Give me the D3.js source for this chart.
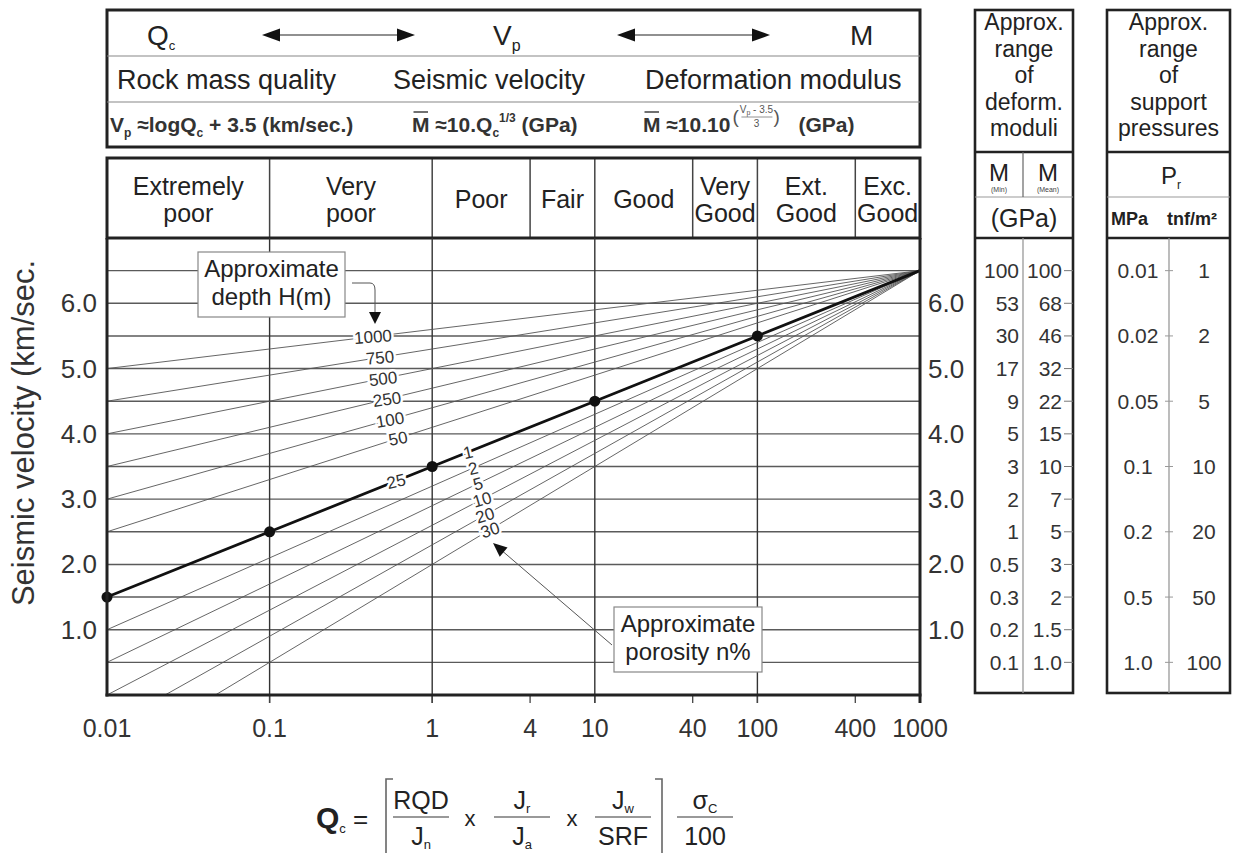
<!DOCTYPE html>
<html>
<head>
<meta charset="utf-8">
<title>Qc - Vp - M</title>
<script src="https://cdn.jsdelivr.net/npm/d3@7"></script>
<style>
body{margin:0;background:#fff;}
text{font-family:"Liberation Sans",Arial,Helvetica,sans-serif;fill:#222;}
</style>
</head>
<body>
<script>
//---------------------------------- data
var qTicks = [0.01, 0.1, 1, 4, 10, 40, 100, 400, 1000];
var qTickLabels = ["0.01", "0.1", "1", "4", "10", "40", "100", "400", "1000"];
var qGrid = [0.1, 1, 10, 100];
var qualityBounds = [0.01, 0.1, 1, 4, 10, 40, 100, 400, 1000];
var qualityNames = [["Extremely", "poor"], ["Very", "poor"], ["Poor"], ["Fair"], ["Good"], ["Very", "Good"], ["Ext.", "Good"], ["Exc.", "Good"]];
var vpTicks = [1, 2, 3, 4, 5, 6];
var vpGrid = [0.5, 1, 1.5, 2, 2.5, 3, 3.5, 4, 4.5, 5, 5.5, 6, 6.5];
var mainQ = [0.01, 0.1, 1, 10, 100, 1000];
var mainVp = [1.5, 2.5, 3.5, 4.5, 5.5, 6.5];
var fanEndQ = 1000, fanEndVp = 6.5;
var depthLabels = ["1000", "750", "500", "250", "100", "50", "25"];
var depthStartVp = [5.0, 4.5, 4.0, 3.5, 3.0, 2.5, 1.5];
var porosityLabels = ["1", "2", "5", "10", "20", "30"];
var porosityStartVp = [1.5, 1.0, 0.5, 0.0, -0.5, -1.0];
var moduliVp = [6.5, 6, 5.5, 5, 4.5, 4, 3.5, 3, 2.5, 2, 1.5, 1, 0.5];
var moduliMin = ["100", "53", "30", "17", "9", "5", "3", "2", "1", "0.5", "0.3", "0.2", "0.1"];
var moduliMean = ["100", "68", "46", "32", "22", "15", "10", "7", "5", "3", "2", "1.5", "1.0"];
var pressureVp = [6.5, 5.5, 4.5, 3.5, 2.5, 1.5, 0.5];
var pressureMPa = ["0.01", "0.02", "0.05", "0.1", "0.2", "0.5", "1.0"];
var pressureTnf = ["1", "2", "5", "10", "20", "50", "100"];

//---------------------------------- layout
var W = 1235, H = 853;
var L = 107, R = 920, T = 238, B = 695;
var depthLabelX = [373, 380, 383, 387, 390, 398, 396];
var porosityLabelX = [468, 473, 478, 482, 485, 490];

var svg = d3.select("body").append("svg").attr("width", W).attr("height", H);
var x = d3.scaleLog().domain([0.01, 1000]).range([L, R]);
var y = d3.scaleLinear().domain([0, 7]).range([B, T]);

svg.append("defs").append("clipPath").attr("id", "plot-clip")
	.append("rect").attr("x", L).attr("y", T).attr("width", R - L).attr("height", B - T);

// rich text: parts {t, size, shift(+down), bold}
function rich(g, px, py, size, parts, anchor)
{
	var t = g.append("text").attr("x", px).attr("y", py).style("font-size", size + "px");
	if (anchor) t.attr("text-anchor", anchor);
	var cur = 0;
	parts.forEach(function (p) {
		var s = p.shift || 0;
		var ts = t.append("tspan").attr("dy", s - cur).style("font-size", (p.size || size) + "px").text(p.t);
		if (p.bold) ts.style("font-weight", "bold");
		cur = s;
	});
	return t;
}
function arrowHead(g, tx, ty, fx, fy, len, hw)
{
	var a = Math.atan2(ty - fy, tx - fx), c = Math.cos(a), s = Math.sin(a);
	var bx = tx - c * len, by = ty - s * len;
	g.append("path").attr("fill", "#111")
		.attr("d", "M" + tx + "," + ty + "L" + (bx - s * hw) + "," + (by + c * hw) + "L" + (bx + s * hw) + "," + (by - c * hw) + "Z");
}
function fanVp(v0, q)
{
	var f = (Math.log10(q) + 2) / 5;
	return v0 + (fanEndVp - v0) * f;
}

//---------------------------------- header box
var head = svg.append("g");
head.append("rect").attr("x", L).attr("y", 10).attr("width", R - L).attr("height", 137)
	.attr("fill", "none").attr("stroke", "#222").attr("stroke-width", 3);
[56, 102].forEach(function (yy) {
	head.append("line").attr("x1", L).attr("x2", R).attr("y1", yy).attr("y2", yy)
		.attr("stroke", "#888").attr("stroke-width", 1.2);
});
rich(head, 147, 45, 28, [{t: "Q"}, {t: "c", size: 13, shift: 5}]);
rich(head, 493, 45, 28, [{t: "V"}, {t: "p", size: 16, shift: 6}]);
rich(head, 850, 45, 28, [{t: "M"}]);
[[262, 415], [617, 770]].forEach(function (a) {
	head.append("line").attr("x1", a[0] + 10).attr("x2", a[1] - 10).attr("y1", 35).attr("y2", 35)
		.attr("stroke", "#222").attr("stroke-width", 1.2);
	arrowHead(head, a[0], 35, a[1], 35, 18, 6.5);
	arrowHead(head, a[1], 35, a[0], 35, 18, 6.5);
});
head.append("text").attr("x", 117).attr("y", 89).style("font-size", "27px").text("Rock mass quality");
head.append("text").attr("x", 393).attr("y", 89).style("font-size", "27px").text("Seismic velocity");
head.append("text").attr("x", 645).attr("y", 89).style("font-size", "27px").text("Deformation modulus");

var f1 = rich(head, 110, 132, 21, [{t: "V"}, {t: "p", size: 12, shift: 5}, {t: " \u2248logQ"}, {t: "c", size: 12, shift: 5}, {t: " + 3.5 (km/sec.)"}]);
var f2 = rich(head, 412, 132, 21, [{t: "M"}, {t: " \u224810.Q"}, {t: "c", size: 12, shift: 5}, {t: "1/3", size: 12, shift: -10}, {t: " (GPa)"}]);
var f3 = rich(head, 643, 132, 21, [{t: "M"}, {t: " \u224810.10"}]);
[f1, f2, f3].forEach(function (t) { t.style("font-weight", "bold").style("fill", "#333"); });
[f2, f3].forEach(function (t) {
	var x0 = +t.attr("x"), w = t.select("tspan").node().getComputedTextLength();
	head.append("line").attr("x1", x0 + 1.5).attr("x2", x0 + w - 1.5).attr("y1", 112).attr("y2", 112)
		.attr("stroke", "#222").attr("stroke-width", 1.3);
});
var f3end = 643 + f3.node().getComputedTextLength();
head.append("text").attr("x", f3end + 2).attr("y", 123).style("font-size", "19px").style("fill", "#555").text("(");
rich(head, f3end + 26, 113, 10, [{t: "V"}, {t: "p", size: 7, shift: 2}, {t: " - 3.5"}], "middle").selectAll("tspan").style("fill", "#555");
head.append("line").attr("x1", f3end + 11).attr("x2", f3end + 42).attr("y1", 117).attr("y2", 117)
	.attr("stroke", "#777").attr("stroke-width", 0.8);
head.append("text").attr("x", f3end + 26).attr("y", 127).attr("text-anchor", "middle").style("font-size", "10px").style("fill", "#555").text("3");
head.append("text").attr("x", f3end + 43).attr("y", 123).style("font-size", "19px").style("fill", "#555").text(")");
head.append("text").attr("x", f3end + 68).attr("y", 132).style("font-size", "21px").style("font-weight", "bold").style("fill", "#333").text("(GPa)");

//---------------------------------- quality classes row
var cls = svg.append("g");
qualityNames.forEach(function (n, i) {
	var cx = (x(qualityBounds[i]) + x(qualityBounds[i + 1])) / 2;
	var t = cls.append("text").attr("x", cx).attr("y", n.length === 1 ? 208 : 195)
		.attr("text-anchor", "middle").style("font-size", "25px");
	n.forEach(function (s, k) {
		t.append("tspan").attr("x", cx).attr("dy", k ? 27 : 0).text(s);
	});
	if (i > 0) {
		cls.append("line").attr("x1", x(qualityBounds[i])).attr("x2", x(qualityBounds[i]))
			.attr("y1", 158).attr("y2", T).attr("stroke", "#444").attr("stroke-width", 1.5);
	}
});
cls.append("rect").attr("x", L).attr("y", 158).attr("width", R - L).attr("height", T - 158)
	.attr("fill", "none").attr("stroke", "#222").attr("stroke-width", 3);

//---------------------------------- plot grid
var plot = svg.append("g");
plot.selectAll(".hgrid").data(vpGrid).enter().append("line").attr("class", "hgrid")
	.attr("x1", L).attr("x2", R).attr("y1", function (d) { return y(d); }).attr("y2", function (d) { return y(d); })
	.attr("stroke", "#5a5a5a").attr("stroke-width", 1.4);
plot.selectAll(".vgrid").data(qGrid).enter().append("line").attr("class", "vgrid")
	.attr("x1", function (d) { return x(d); }).attr("x2", function (d) { return x(d); })
	.attr("y1", T).attr("y2", B + 8).attr("stroke", "#333").attr("stroke-width", 1.4);
plot.selectAll(".xtick").data(qTicks.slice(1, -1)).enter().append("line").attr("class", "xtick")
	.attr("x1", function (d) { return x(d); }).attr("x2", function (d) { return x(d); })
	.attr("y1", B).attr("y2", B + 8).attr("stroke", "#444").attr("stroke-width", 1.3);

// fan lines
var fan = plot.append("g").attr("clip-path", "url(#plot-clip)");
depthStartVp.concat(porosityStartVp).forEach(function (v0) {
	if (v0 === 1.5) return;
	fan.append("line").attr("x1", x(0.01)).attr("y1", y(v0)).attr("x2", x(fanEndQ)).attr("y2", y(fanEndVp))
		.attr("stroke", "#555").attr("stroke-width", 0.9);
});
var mainLine = d3.line().x(function (d, i) { return x(mainQ[i]); }).y(function (d) { return y(d); });
plot.append("path").datum(mainVp).attr("d", mainLine).attr("fill", "none").attr("stroke", "#111").attr("stroke-width", 2.8);
plot.selectAll(".dot").data(mainVp.slice(0, -1)).enter().append("circle").attr("class", "dot")
	.attr("cx", function (d, i) { return x(mainQ[i]); }).attr("cy", function (d) { return y(d); })
	.attr("r", 5.5).attr("fill", "#111");

function lineLabel(txt, v0, px)
{
	var q = x.invert(px), vy = y(fanVp(v0, q));
	var ang = Math.atan2(y(fanEndVp) - y(v0), R - L) * 180 / Math.PI * 0.6;
	plot.append("text").attr("transform", "translate(" + px + "," + vy + ") rotate(" + ang + ")")
		.attr("text-anchor", "middle").attr("dy", "0.36em").style("font-size", "17px").style("fill", "#333")
		.attr("stroke", "#fff").attr("stroke-width", 5).attr("paint-order", "stroke").text(txt);
}
depthLabels.forEach(function (d, i) { lineLabel(d, depthStartVp[i], depthLabelX[i]); });
porosityLabels.forEach(function (d, i) { lineLabel(d, porosityStartVp[i], porosityLabelX[i]); });

// plot frame
plot.append("line").attr("x1", L).attr("x2", L).attr("y1", T).attr("y2", B + 1.5).attr("stroke", "#222").attr("stroke-width", 3);
plot.append("line").attr("x1", R).attr("x2", R).attr("y1", T).attr("y2", B + 8).attr("stroke", "#222").attr("stroke-width", 3);
plot.append("line").attr("x1", L - 1.5).attr("x2", R + 1.5).attr("y1", B).attr("y2", B).attr("stroke", "#222").attr("stroke-width", 3);

// axis labels
plot.selectAll(".xl").data(qTicks).enter().append("text").attr("class", "xl")
	.attr("x", function (d) { return x(d); }).attr("y", 737).attr("text-anchor", "middle")
	.style("font-size", "25px").style("fill", "#333").text(function (d, i) { return qTickLabels[i]; });
plot.selectAll(".yl").data(vpTicks).enter().append("text").attr("class", "yl")
	.attr("x", 97).attr("y", function (d) { return y(d) + 9; }).attr("text-anchor", "end")
	.style("font-size", "26px").style("fill", "#333").text(function (d) { return d.toFixed(1); });
plot.selectAll(".yr").data(vpTicks).enter().append("text").attr("class", "yr")
	.attr("x", 928).attr("y", function (d) { return y(d) + 9; })
	.style("font-size", "26px").style("fill", "#333").text(function (d) { return d.toFixed(1); });
plot.append("text").attr("transform", "translate(34,433) rotate(-90)").attr("text-anchor", "middle")
	.style("font-size", "31px").style("fill", "#333").text("Seismic velocity (km/sec.");

// annotation boxes
var ann = svg.append("g");
function noteBox(x0, y0, w, h, lines)
{
	ann.append("rect").attr("x", x0).attr("y", y0).attr("width", w).attr("height", h)
		.attr("fill", "#fff").attr("stroke", "#888").attr("stroke-width", 1.2);
	var t = ann.append("text").attr("x", x0 + w / 2).attr("y", y0 + 25).attr("text-anchor", "middle").style("font-size", "24px");
	lines.forEach(function (s, k) { t.append("tspan").attr("x", x0 + w / 2).attr("dy", k ? 28 : 0).text(s); });
}
noteBox(198, 252, 147, 65, ["Approximate", "depth H(m)"]);
noteBox(614, 607, 148, 65, ["Approximate", "porosity n%"]);
ann.append("path").attr("d", "M352,283 L370,283 Q375,283 375,290 L375,313").attr("fill", "none").attr("stroke", "#555").attr("stroke-width", 1);
arrowHead(ann, 375, 324, 375, 300, 12, 6);
ann.append("line").attr("x1", 612).attr("y1", 645).attr("x2", 500).attr("y2", 549).attr("stroke", "#555").attr("stroke-width", 1);
arrowHead(ann, 493, 543, 612, 645, 14, 6);

//---------------------------------- right panels
var pan = svg.append("g");
function panelFrame(x0, w, split)
{
	pan.append("rect").attr("x", x0).attr("y", 10).attr("width", w).attr("height", 683)
		.attr("fill", "none").attr("stroke", "#222").attr("stroke-width", 2.6);
	pan.append("line").attr("x1", x0).attr("x2", x0 + w).attr("y1", 152).attr("y2", 152).attr("stroke", "#222").attr("stroke-width", 2.6);
	pan.append("line").attr("x1", x0).attr("x2", x0 + w).attr("y1", 197).attr("y2", 197).attr("stroke", "#999").attr("stroke-width", 1.2);
	pan.append("line").attr("x1", x0).attr("x2", x0 + w).attr("y1", T).attr("y2", T).attr("stroke", "#222").attr("stroke-width", 2.6);
	pan.append("line").attr("x1", split).attr("x2", split).attr("y1", T).attr("y2", 693).attr("stroke", "#999").attr("stroke-width", 1.3);
}
panelFrame(975, 98, 1023);
panelFrame(1107, 123, 1169);
pan.append("line").attr("x1", 1023).attr("x2", 1023).attr("y1", 152).attr("y2", 197).attr("stroke", "#666").attr("stroke-width", 1.2);

[[["Approx.", "range", "of", "deform.", "moduli"], 1024], [["Approx.", "range", "of", "support", "pressures"], 1168.5]].forEach(function (h) {
	var t = pan.append("text").attr("x", h[1]).attr("y", 30).attr("text-anchor", "middle").style("font-size", "23px");
	h[0].forEach(function (s, k) { t.append("tspan").attr("x", h[1]).attr("dy", k ? 26.5 : 0).text(s); });
});
pan.append("text").attr("x", 999).attr("y", 181).attr("text-anchor", "middle").style("font-size", "24px").text("M");
pan.append("text").attr("x", 999).attr("y", 192).attr("text-anchor", "middle").style("font-size", "7px").style("fill", "#444").text("(Min)");
pan.append("text").attr("x", 1048).attr("y", 181).attr("text-anchor", "middle").style("font-size", "24px").text("M");
pan.append("text").attr("x", 1048).attr("y", 192).attr("text-anchor", "middle").style("font-size", "7px").style("fill", "#444").text("(Mean)");
pan.append("text").attr("x", 1024).attr("y", 227).attr("text-anchor", "middle").style("font-size", "25px").text("(GPa)");
rich(pan, 1161, 184, 24, [{t: "P"}, {t: "r", size: 12, shift: 5}]);
pan.append("text").attr("x", 1111).attr("y", 225).style("font-size", "18px").style("font-weight", "bold").text("MPa");
pan.append("text").attr("x", 1167).attr("y", 225).style("font-size", "18px").style("font-weight", "bold").text("tnf/m\u00b2");

moduliVp.forEach(function (v, i) {
	pan.append("text").attr("x", 1019).attr("y", y(v) + 7.5).attr("text-anchor", "end").style("font-size", "21px").style("fill", "#333").text(moduliMin[i]);
	pan.append("text").attr("x", 1062).attr("y", y(v) + 7.5).attr("text-anchor", "end").style("font-size", "21px").style("fill", "#333").text(moduliMean[i]);
	pan.append("line").attr("x1", 1064).attr("x2", 1073).attr("y1", y(v)).attr("y2", y(v)).attr("stroke", "#777").attr("stroke-width", 1);
});
pressureVp.forEach(function (v, i) {
	pan.append("text").attr("x", 1138).attr("y", y(v) + 7.5).attr("text-anchor", "middle").style("font-size", "21px").style("fill", "#333").text(pressureMPa[i]);
	pan.append("text").attr("x", 1204).attr("y", y(v) + 7.5).attr("text-anchor", "middle").style("font-size", "21px").style("fill", "#333").text(pressureTnf[i]);
	pan.append("line").attr("x1", 1165).attr("x2", 1173).attr("y1", y(v)).attr("y2", y(v)).attr("stroke", "#999").attr("stroke-width", 1);
});

//---------------------------------- Qc formula
var fm = svg.append("g");
rich(fm, 316, 828, 30, [{t: "Q", bold: true}, {t: "c", size: 13, shift: 5}, {t: " =", size: 26}]);
fm.append("path").attr("d", "M393,779 L386,779 L386,853").attr("fill", "none").attr("stroke", "#666").attr("stroke-width", 1.6);
fm.append("path").attr("d", "M655,779 L662,779 L662,853").attr("fill", "none").attr("stroke", "#666").attr("stroke-width", 1.6);
function frac(cx, hw, num, den)
{
	rich(fm, cx, 809, 25, num, "middle");
	fm.append("line").attr("x1", cx - hw).attr("x2", cx + hw).attr("y1", 817).attr("y2", 817).attr("stroke", "#777").attr("stroke-width", 1.5);
	rich(fm, cx, 845, 25, den, "middle");
}
frac(421, 28, [{t: "RQD"}], [{t: "J"}, {t: "n", size: 13, shift: 4}]);
frac(522, 28, [{t: "J"}, {t: "r", size: 13, shift: 4}], [{t: "J"}, {t: "a", size: 13, shift: 4}]);
frac(623, 28, [{t: "J"}, {t: "w", size: 13, shift: 4}], [{t: "SRF"}]);
frac(705, 28, [{t: "\u03c3"}, {t: "C", size: 13, shift: 4}], [{t: "100"}]);
fm.append("text").attr("x", 470).attr("y", 826).attr("text-anchor", "middle").style("font-size", "22px").text("x");
fm.append("text").attr("x", 572).attr("y", 826).attr("text-anchor", "middle").style("font-size", "22px").text("x");
</script>
</body>
</html>
